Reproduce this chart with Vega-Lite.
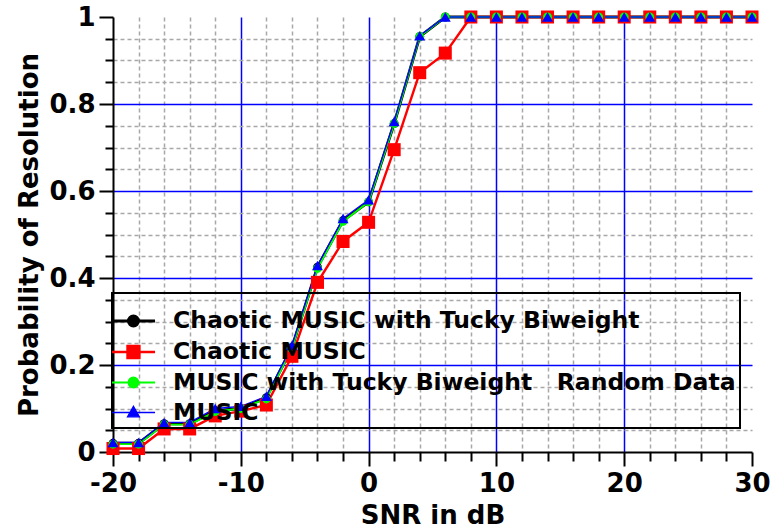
{
  "$schema": "https://vega.github.io/schema/vega-lite/v6.json",
  "width": 639,
  "height": 435,
  "autosize": {"type": "none"},
  "padding": {"left": 113, "top": 17, "right": 20, "bottom": 77},
  "config": {
    "view": {"stroke": null},
    "font": "DejaVu Sans",
    "legend": {"strokeWidth": 2}
  },
  "data": {
    "values": [
      {"s": "Chaotic MUSIC with Tucky Biweight", "x": -20, "y": 0.02},
      {"s": "Chaotic MUSIC with Tucky Biweight", "x": -18, "y": 0.02},
      {"s": "Chaotic MUSIC with Tucky Biweight", "x": -16, "y": 0.065},
      {"s": "Chaotic MUSIC with Tucky Biweight", "x": -14, "y": 0.065},
      {"s": "Chaotic MUSIC with Tucky Biweight", "x": -12, "y": 0.095},
      {"s": "Chaotic MUSIC with Tucky Biweight", "x": -10, "y": 0.1},
      {"s": "Chaotic MUSIC with Tucky Biweight", "x": -8, "y": 0.125},
      {"s": "Chaotic MUSIC with Tucky Biweight", "x": -6, "y": 0.24},
      {"s": "Chaotic MUSIC with Tucky Biweight", "x": -4, "y": 0.425},
      {"s": "Chaotic MUSIC with Tucky Biweight", "x": -2, "y": 0.532},
      {"s": "Chaotic MUSIC with Tucky Biweight", "x": 0, "y": 0.575},
      {"s": "Chaotic MUSIC with Tucky Biweight", "x": 2, "y": 0.755},
      {"s": "Chaotic MUSIC with Tucky Biweight", "x": 4, "y": 0.955},
      {"s": "Chaotic MUSIC with Tucky Biweight", "x": 6, "y": 1},
      {"s": "Chaotic MUSIC with Tucky Biweight", "x": 8, "y": 1},
      {"s": "Chaotic MUSIC with Tucky Biweight", "x": 10, "y": 1},
      {"s": "Chaotic MUSIC with Tucky Biweight", "x": 12, "y": 1},
      {"s": "Chaotic MUSIC with Tucky Biweight", "x": 14, "y": 1},
      {"s": "Chaotic MUSIC with Tucky Biweight", "x": 16, "y": 1},
      {"s": "Chaotic MUSIC with Tucky Biweight", "x": 18, "y": 1},
      {"s": "Chaotic MUSIC with Tucky Biweight", "x": 20, "y": 1},
      {"s": "Chaotic MUSIC with Tucky Biweight", "x": 22, "y": 1},
      {"s": "Chaotic MUSIC with Tucky Biweight", "x": 24, "y": 1},
      {"s": "Chaotic MUSIC with Tucky Biweight", "x": 26, "y": 1},
      {"s": "Chaotic MUSIC with Tucky Biweight", "x": 28, "y": 1},
      {"s": "Chaotic MUSIC with Tucky Biweight", "x": 30, "y": 1},
      {"s": "Chaotic MUSIC", "x": -20, "y": 0.008},
      {"s": "Chaotic MUSIC", "x": -18, "y": 0.008},
      {"s": "Chaotic MUSIC", "x": -16, "y": 0.053},
      {"s": "Chaotic MUSIC", "x": -14, "y": 0.053},
      {"s": "Chaotic MUSIC", "x": -12, "y": 0.083},
      {"s": "Chaotic MUSIC", "x": -10, "y": 0.094},
      {"s": "Chaotic MUSIC", "x": -8, "y": 0.108},
      {"s": "Chaotic MUSIC", "x": -6, "y": 0.22},
      {"s": "Chaotic MUSIC", "x": -4, "y": 0.39},
      {"s": "Chaotic MUSIC", "x": -2, "y": 0.484},
      {"s": "Chaotic MUSIC", "x": 0, "y": 0.528},
      {"s": "Chaotic MUSIC", "x": 2, "y": 0.695},
      {"s": "Chaotic MUSIC", "x": 4, "y": 0.872},
      {"s": "Chaotic MUSIC", "x": 6, "y": 0.917},
      {"s": "Chaotic MUSIC", "x": 8, "y": 1},
      {"s": "Chaotic MUSIC", "x": 10, "y": 1},
      {"s": "Chaotic MUSIC", "x": 12, "y": 1},
      {"s": "Chaotic MUSIC", "x": 14, "y": 1},
      {"s": "Chaotic MUSIC", "x": 16, "y": 1},
      {"s": "Chaotic MUSIC", "x": 18, "y": 1},
      {"s": "Chaotic MUSIC", "x": 20, "y": 1},
      {"s": "Chaotic MUSIC", "x": 22, "y": 1},
      {"s": "Chaotic MUSIC", "x": 24, "y": 1},
      {"s": "Chaotic MUSIC", "x": 26, "y": 1},
      {"s": "Chaotic MUSIC", "x": 28, "y": 1},
      {"s": "Chaotic MUSIC", "x": 30, "y": 1},
      {"s": "MUSIC with Tucky Biweight\u00a0\u00a0 Random Data", "x": -20, "y": 0.018},
      {"s": "MUSIC with Tucky Biweight\u00a0\u00a0 Random Data", "x": -18, "y": 0.018},
      {"s": "MUSIC with Tucky Biweight\u00a0\u00a0 Random Data", "x": -16, "y": 0.063},
      {"s": "MUSIC with Tucky Biweight\u00a0\u00a0 Random Data", "x": -14, "y": 0.063},
      {"s": "MUSIC with Tucky Biweight\u00a0\u00a0 Random Data", "x": -12, "y": 0.093},
      {"s": "MUSIC with Tucky Biweight\u00a0\u00a0 Random Data", "x": -10, "y": 0.1},
      {"s": "MUSIC with Tucky Biweight\u00a0\u00a0 Random Data", "x": -8, "y": 0.122},
      {"s": "MUSIC with Tucky Biweight\u00a0\u00a0 Random Data", "x": -6, "y": 0.238},
      {"s": "MUSIC with Tucky Biweight\u00a0\u00a0 Random Data", "x": -4, "y": 0.422},
      {"s": "MUSIC with Tucky Biweight\u00a0\u00a0 Random Data", "x": -2, "y": 0.53},
      {"s": "MUSIC with Tucky Biweight\u00a0\u00a0 Random Data", "x": 0, "y": 0.575},
      {"s": "MUSIC with Tucky Biweight\u00a0\u00a0 Random Data", "x": 2, "y": 0.755},
      {"s": "MUSIC with Tucky Biweight\u00a0\u00a0 Random Data", "x": 4, "y": 0.955},
      {"s": "MUSIC with Tucky Biweight\u00a0\u00a0 Random Data", "x": 6, "y": 1},
      {"s": "MUSIC with Tucky Biweight\u00a0\u00a0 Random Data", "x": 8, "y": 1},
      {"s": "MUSIC with Tucky Biweight\u00a0\u00a0 Random Data", "x": 10, "y": 1},
      {"s": "MUSIC with Tucky Biweight\u00a0\u00a0 Random Data", "x": 12, "y": 1},
      {"s": "MUSIC with Tucky Biweight\u00a0\u00a0 Random Data", "x": 14, "y": 1},
      {"s": "MUSIC with Tucky Biweight\u00a0\u00a0 Random Data", "x": 16, "y": 1},
      {"s": "MUSIC with Tucky Biweight\u00a0\u00a0 Random Data", "x": 18, "y": 1},
      {"s": "MUSIC with Tucky Biweight\u00a0\u00a0 Random Data", "x": 20, "y": 1},
      {"s": "MUSIC with Tucky Biweight\u00a0\u00a0 Random Data", "x": 22, "y": 1},
      {"s": "MUSIC with Tucky Biweight\u00a0\u00a0 Random Data", "x": 24, "y": 1},
      {"s": "MUSIC with Tucky Biweight\u00a0\u00a0 Random Data", "x": 26, "y": 1},
      {"s": "MUSIC with Tucky Biweight\u00a0\u00a0 Random Data", "x": 28, "y": 1},
      {"s": "MUSIC with Tucky Biweight\u00a0\u00a0 Random Data", "x": 30, "y": 1},
      {"s": "MUSIC", "x": -20, "y": 0.022},
      {"s": "MUSIC", "x": -18, "y": 0.022},
      {"s": "MUSIC", "x": -16, "y": 0.068},
      {"s": "MUSIC", "x": -14, "y": 0.068},
      {"s": "MUSIC", "x": -12, "y": 0.1},
      {"s": "MUSIC", "x": -10, "y": 0.105},
      {"s": "MUSIC", "x": -8, "y": 0.128},
      {"s": "MUSIC", "x": -6, "y": 0.245},
      {"s": "MUSIC", "x": -4, "y": 0.429},
      {"s": "MUSIC", "x": -2, "y": 0.537},
      {"s": "MUSIC", "x": 0, "y": 0.58},
      {"s": "MUSIC", "x": 2, "y": 0.76},
      {"s": "MUSIC", "x": 4, "y": 0.957},
      {"s": "MUSIC", "x": 6, "y": 1},
      {"s": "MUSIC", "x": 8, "y": 1},
      {"s": "MUSIC", "x": 10, "y": 1},
      {"s": "MUSIC", "x": 12, "y": 1},
      {"s": "MUSIC", "x": 14, "y": 1},
      {"s": "MUSIC", "x": 16, "y": 1},
      {"s": "MUSIC", "x": 18, "y": 1},
      {"s": "MUSIC", "x": 20, "y": 1},
      {"s": "MUSIC", "x": 22, "y": 1},
      {"s": "MUSIC", "x": 24, "y": 1},
      {"s": "MUSIC", "x": 26, "y": 1},
      {"s": "MUSIC", "x": 28, "y": 1},
      {"s": "MUSIC", "x": 30, "y": 1}
    ]
  },
  "encoding": {
    "x": {
      "field": "x",
      "type": "quantitative",
      "scale": {"domain": [-20, 30], "nice": false, "zero": false},
      "axis": {
        "values": [-20, -18, -16, -14, -12, -10, -8, -6, -4, -2, 0, 2, 4, 6, 8, 10, 12, 14, 16, 18, 20, 22, 24, 26, 28, 30],
        "labelExpr": "datum.value % 10 === 0 ? '' + datum.value : ''",
        "labelFlush": false,
        "labelOverlap": false,
        "labelBound": false,
        "labelFont": "DejaVu Sans",
        "labelFontSize": 26,
        "labelFontWeight": "bold",
        "labelColor": "black",
        "labelPadding": 4,
        "grid": true,
        "gridColor": {"condition": {"test": "datum.value % 10 === 0", "value": "#0000ff"}, "value": "#a8a8a8"},
        "gridDash": {"condition": {"test": "datum.value % 10 === 0", "value": []}, "value": [4, 3]},
        "gridWidth": 1.5,
        "gridOpacity": {"condition": {"test": "datum.value === 30 || datum.value === -20", "value": 0}, "value": 1},
        "tickSize": {"condition": {"test": "datum.value % 10 === 0", "value": 14}, "value": 9},
        "tickColor": "black",
        "tickWidth": 2,
        "domainColor": "black",
        "domainWidth": 2,
        "title": "SNR in dB",
        "titleFont": "DejaVu Sans",
        "titleFontSize": 26,
        "titleFontWeight": "bold",
        "titleColor": "black",
        "titlePadding": 6
      }
    },
    "y": {
      "field": "y",
      "type": "quantitative",
      "scale": {"domain": [0, 1], "nice": false, "zero": false},
      "axis": {
        "values": [0, 0.05, 0.1, 0.15, 0.2, 0.25, 0.3, 0.35, 0.4, 0.45, 0.5, 0.55, 0.6, 0.65, 0.7, 0.75, 0.8, 0.85, 0.9, 0.95, 1],
        "labelExpr": "abs(datum.value * 5 - round(datum.value * 5)) < 0.001 ? '' + round(datum.value * 5) / 5 : ''",
        "labelFlush": false,
        "labelOverlap": false,
        "labelBound": false,
        "labelFont": "DejaVu Sans",
        "labelFontSize": 26,
        "labelFontWeight": "bold",
        "labelColor": "black",
        "labelPadding": 4,
        "grid": true,
        "gridColor": {"condition": {"test": "abs(datum.value * 5 - round(datum.value * 5)) < 0.001", "value": "#0000ff"}, "value": "#a8a8a8"},
        "gridDash": {"condition": {"test": "abs(datum.value * 5 - round(datum.value * 5)) < 0.001", "value": []}, "value": [4, 3]},
        "gridWidth": 1.5,
        "gridOpacity": {"condition": {"test": "datum.value === 1 || datum.value === 0", "value": 0}, "value": 1},
        "tickSize": {"condition": {"test": "abs(datum.value * 5 - round(datum.value * 5)) < 0.001", "value": 14}, "value": 8},
        "tickColor": "black",
        "tickWidth": 2,
        "domainColor": "black",
        "domainWidth": 2,
        "title": "Probability of Resolution",
        "titleFont": "DejaVu Sans",
        "titleFontSize": 26,
        "titleFontWeight": "bold",
        "titleColor": "black",
        "titlePadding": 6
      }
    }
  },
  "layer": [
    {
      "mark": {"type": "line"},
      "encoding": {
        "color": {
          "field": "s",
          "type": "nominal",
          "scale": {
            "domain": ["Chaotic MUSIC with Tucky Biweight", "Chaotic MUSIC", "MUSIC with Tucky Biweight\u00a0\u00a0 Random Data", "MUSIC"],
            "range": ["#000000", "#ff0000", "#00ff00", "#0000ff"]
          }
        },
        "strokeWidth": {
          "field": "s",
          "type": "nominal",
          "scale": {
            "domain": ["Chaotic MUSIC with Tucky Biweight", "Chaotic MUSIC", "MUSIC with Tucky Biweight\u00a0\u00a0 Random Data", "MUSIC"],
            "range": [3, 1.3, 3, 1.8]
          },
          "legend": null
        }
      }
    },
    {
      "transform": [{"filter": {"field": "s", "equal": "Chaotic MUSIC with Tucky Biweight"}}],
      "mark": {"type": "point", "filled": true, "opacity": 1, "shape": "circle", "size": 80},
      "encoding": {"color": {"field": "s", "type": "nominal"}}
    },
    {
      "transform": [{"filter": {"field": "s", "equal": "Chaotic MUSIC"}}],
      "mark": {"type": "point", "filled": true, "opacity": 1, "shape": "square", "size": 170},
      "encoding": {"color": {"field": "s", "type": "nominal"}}
    },
    {
      "transform": [{"filter": {"field": "s", "equal": "MUSIC with Tucky Biweight\u00a0\u00a0 Random Data"}}],
      "mark": {"type": "point", "filled": true, "opacity": 1, "shape": "circle", "size": 80},
      "encoding": {"color": {"field": "s", "type": "nominal"}}
    },
    {
      "transform": [{"filter": {"field": "s", "equal": "MUSIC"}}],
      "mark": {"type": "point", "filled": true, "opacity": 1, "shape": "triangle-up", "size": 120},
      "encoding": {"color": {"field": "s", "type": "nominal"}}
    },
    {
      "transform": [{"filter": "datum.x > 100"}],
      "mark": {"type": "point", "filled": true, "opacity": 1, "strokeWidth": 2.5},
      "encoding": {
        "color": {
          "field": "s",
          "type": "nominal",
          "legend": {
            "orient": "none",
            "legendX": -1,
            "legendY": 276,
            "title": "\u00a0",
            "titleFontSize": 4,
            "titlePadding": 4,
            "labelFont": "DejaVu Sans",
            "labelFontSize": 23.5,
            "labelFontWeight": "bold",
            "labelColor": "black",
            "labelLimit": 0,
            "labelOffset": 25,
            "symbolSize": 841,
            "symbolStrokeWidth": 2.5,
            "strokeColor": "black",
            "padding": 4,
            "rowPadding": 3,
            "encode": {
              "symbols": {
                "update": {
                  "stroke": {"scale": "color", "field": "value"},
                  "fill": {"scale": "color", "field": "value"},
                  "strokeWidth": {"value": 2.5},
                  "opacity": {"value": 1}
                }
              }
            }
          }
        },
        "shape": {
          "field": "s",
          "type": "nominal",
          "scale": {
            "domain": ["Chaotic MUSIC with Tucky Biweight", "Chaotic MUSIC", "MUSIC with Tucky Biweight\u00a0\u00a0 Random Data", "MUSIC"],
            "range": [
              "M-1.38,0H1.59M0.445,0A0.345,0.345 0 1,1 -0.245,0A0.345,0.345 0 1,1 0.445,0Z",
              "M-1.38,0H1.59M-0.31,-0.41H0.51V0.41H-0.31Z",
              "M-1.38,0H1.59M0.445,0A0.345,0.345 0 1,1 -0.245,0A0.345,0.345 0 1,1 0.445,0Z",
              "M-1.38,0H1.59M0.1,-0.43L0.51,0.3H-0.31Z"
            ]
          }
        }
      }
    }
  ]
}
